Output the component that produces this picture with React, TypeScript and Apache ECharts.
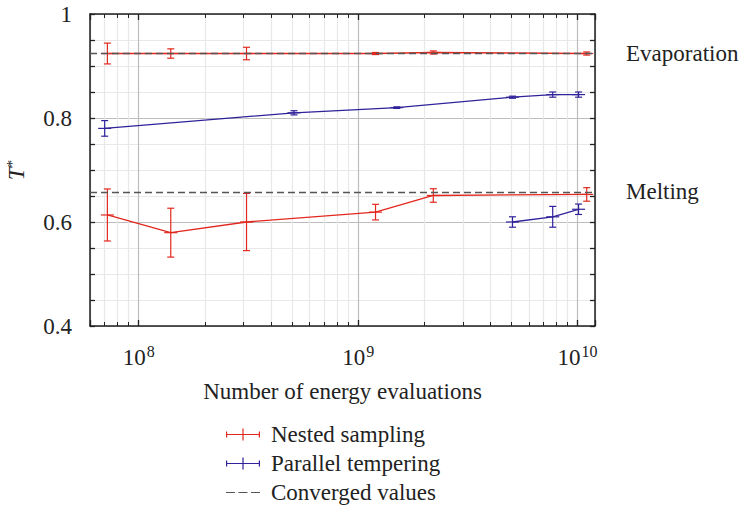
import React, { useEffect, useRef } from 'react';
import * as echarts from 'echarts';

// Nested sampling
const evaluationsNS = [7.2e7, 1.4e8, 3.1e8, 1.2e9, 2.2e9, 1.1e10];
const nsEvaporation = [0.924, 0.924, 0.924, 0.924, 0.926, 0.924];
const nsEvaporationErr = [0.02, 0.009, 0.012, 0.002, 0.003, 0.003];
const nsMelting = [0.6135, 0.5795, 0.6, 0.619, 0.651, 0.653];
const nsMeltingErr = [0.05, 0.047, 0.055, 0.015, 0.013, 0.013];

// Parallel tempering
const evaluationsPT = [7e7, 5.1e8, 1.5e9, 5.05e9, 7.7e9, 1.01e10];
const ptEvaporation = [0.78, 0.81, 0.82, 0.84, 0.845, 0.845];
const ptEvaporationErr = [0.015, 0.004, 0.0015, 0.002, 0.005, 0.005];
const evaluationsPTMelting = [5.05e9, 7.7e9, 1.01e10];
const ptMelting = [0.6, 0.61, 0.6245];
const ptMeltingErr = [0.01, 0.02, 0.01];

// Converged values
const convergedLabels = ['Evaporation', 'Melting'];
const convergedValues = [0.924, 0.658];

const RED = '#e2281e';
const BLUE = '#2f229a';
const GREY = '#555555';
const INK = '#222222';
const FONT = 'Liberation Serif';
const FS = 23;

const errIcon = 'path://M0,5.4H34V6.6H0Z M0,3H1.2V9H0Z M32.8,3H34V9H32.8Z M16.4,0H17.6V12H16.4Z';
const dashIcon = 'path://M0,5.4H9V6.6H0Z M12.5,5.4H21.5V6.6H12.5Z M25,5.4H34V6.6H25Z';

function lineSeries(name: string, color: string, xs: number[], ys: number[]) {
  return {
    type: 'line',
    name,
    data: xs.map((x, i) => [x, ys[i]]),
    symbol: 'none',
    showSymbol: false,
    lineStyle: { color, width: 1.3 },
    itemStyle: { color },
    z: 3,
  };
}

function errorSeries(name: string, color: string, xs: number[], ys: number[], errs: number[]) {
  return {
    type: 'custom',
    name,
    data: xs.map((x, i) => [x, ys[i], errs[i]]),
    encode: { x: 0, y: 1 },
    itemStyle: { color },
    z: 4,
    renderItem: (_params: any, api: any) => {
      const x = api.value(0);
      const y = api.value(1);
      const e = api.value(2);
      const top = api.coord([x, y + e]);
      const bot = api.coord([x, y - e]);
      const mid = api.coord([x, y]);
      const style = { stroke: color, lineWidth: 1.2, fill: null };
      const cap = 3.5;
      const dash = 6.5;
      return {
        type: 'group',
        children: [
          { type: 'line', shape: { x1: top[0], y1: top[1], x2: bot[0], y2: bot[1] }, style },
          { type: 'line', shape: { x1: top[0] - cap, y1: top[1], x2: top[0] + cap, y2: top[1] }, style },
          { type: 'line', shape: { x1: bot[0] - cap, y1: bot[1], x2: bot[0] + cap, y2: bot[1] }, style },
          { type: 'line', shape: { x1: mid[0] - dash, y1: mid[1], x2: mid[0] + dash, y2: mid[1] }, style },
        ],
      };
    },
  };
}

function logLabel(v: number) {
  const l = Math.log10(v);
  if (Math.abs(l - Math.round(l)) > 1e-6) return '';
  return `{b|10}{s|${Math.round(l)}}`;
}

export default function App() {
  const ref = useRef<HTMLDivElement>(null);
  useEffect(() => {
    if (!ref.current) return;
    const chart = echarts.init(ref.current, undefined, { renderer: 'svg' });
    const axisLineStyle = { color: INK, width: 1.5 };
    const tickStyle = { color: INK, width: 1.3 };
    const xCommon = {
      type: 'log',
      logBase: 10,
      min: 6e7,
      max: 1.2e10,
      axisLine: { show: true, onZero: false, lineStyle: axisLineStyle },
      axisTick: { show: true, inside: true, length: 6, lineStyle: tickStyle },
      minorTick: { show: true, splitNumber: 9, length: 4, lineStyle: { color: INK, width: 1 } },
    };
    const yCommon = {
      type: 'value',
      min: 0.4,
      max: 1,
      interval: 0.2,
      axisLine: { show: true, onZero: false, lineStyle: axisLineStyle },
      axisTick: { show: true, inside: true, length: 5, lineStyle: tickStyle },
      minorTick: { show: true, splitNumber: 4, length: 5, lineStyle: tickStyle },
    };
    chart.setOption({
      animation: false,
      textStyle: { fontFamily: FONT, fontSize: FS, color: INK },
      grid: {
        left: 90,
        top: 14,
        width: 505,
        height: 312,
        containLabel: false,
        outerBoundsMode: 'none',
      },
      xAxis: [
        {
          ...xCommon,
          position: 'bottom',
          splitLine: { show: true, lineStyle: { color: '#bdbdbd', width: 1.2 } },
          minorSplitLine: { show: true, lineStyle: { color: '#e8e8e8', width: 1.2 } },
          axisLabel: {
            margin: 17,
            formatter: logLabel,
            showMinLabel: true,
            showMaxLabel: true,
            fontFamily: FONT,
            rich: {
              b: { fontFamily: FONT, fontSize: FS, color: INK },
              s: { fontFamily: FONT, fontSize: 16, color: INK, padding: [0, 0, 12, 1] },
            },
          },
          name: 'Number of energy evaluations',
          nameLocation: 'middle',
          nameGap: 54,
          nameTextStyle: { fontFamily: FONT, fontSize: FS, color: INK },
        },
        {
          ...xCommon,
          position: 'top',
          axisLabel: { show: false },
          splitLine: { show: false },
        },
      ],
      yAxis: [
        {
          ...yCommon,
          position: 'left',
          splitLine: { show: true, lineStyle: { color: '#bdbdbd', width: 1.2 } },
          minorSplitLine: { show: true, lineStyle: { color: '#e8e8e8', width: 1.2 } },
          axisLabel: { margin: 18, fontFamily: FONT, fontSize: FS, color: INK },
          name: '{i|T}{s|*}',
          nameLocation: 'middle',
          nameGap: 61,
          nameRotate: 90,
          nameTextStyle: {
            fontFamily: FONT,
            padding: [0, 0, 0, 0],
            rich: {
              i: { fontFamily: FONT, fontSize: FS, fontStyle: 'italic', color: INK },
              s: { fontFamily: FONT, fontSize: 15, color: INK, padding: [0, 0, 10, 0] },
            },
          },
        },
        {
          ...yCommon,
          position: 'right',
          axisLabel: { show: false },
          splitLine: { show: false },
        },
      ],
      legend: {
        orient: 'vertical',
        left: 226,
        top: 423,
        height: 140,
        padding: 0,
        itemGap: 6,
        itemWidth: 34,
        itemHeight: 12,
        symbolKeepAspect: true,
        itemStyle: { borderWidth: 0 },
        textStyle: { fontFamily: FONT, fontSize: FS, color: INK, padding: [0, 0, 0, 6] },
        data: [
          { name: 'Nested sampling', icon: errIcon },
          { name: 'Parallel tempering', icon: errIcon },
          { name: 'Converged values', icon: dashIcon },
        ],
      },
      series: [
        lineSeries('Nested sampling', RED, evaluationsNS, nsEvaporation),
        lineSeries('Nested sampling', RED, evaluationsNS, nsMelting),
        lineSeries('Parallel tempering', BLUE, evaluationsPT, ptEvaporation),
        lineSeries('Parallel tempering', BLUE, evaluationsPTMelting, ptMelting),
        errorSeries('Nested sampling', RED, evaluationsNS, nsEvaporation, nsEvaporationErr),
        errorSeries('Nested sampling', RED, evaluationsNS, nsMelting, nsMeltingErr),
        errorSeries('Parallel tempering', BLUE, evaluationsPT, ptEvaporation, ptEvaporationErr),
        errorSeries('Parallel tempering', BLUE, evaluationsPTMelting, ptMelting, ptMeltingErr),
        {
          type: 'line',
          name: 'Converged values',
          data: [],
          itemStyle: { color: GREY },
          lineStyle: { color: GREY },
          z: 2,
          markLine: {
            silent: true,
            symbol: 'none',
            precision: 4,
            lineStyle: { color: GREY, type: [7, 4], width: 1.3 },
            label: {
              show: true,
              position: 'end',
              distance: 31,
              formatter: '{b}',
              fontFamily: FONT,
              fontSize: FS,
              color: INK,
            },
            data: convergedValues.map((v, i) => ({ yAxis: v, name: convergedLabels[i] })),
          },
        },
      ],
    });
    return () => chart.dispose();
  }, []);
  return (
    <div
      ref={ref}
      style={{ position: 'absolute', left: 0, top: 0, width: 746, height: 505 }}
    />
  );
}
